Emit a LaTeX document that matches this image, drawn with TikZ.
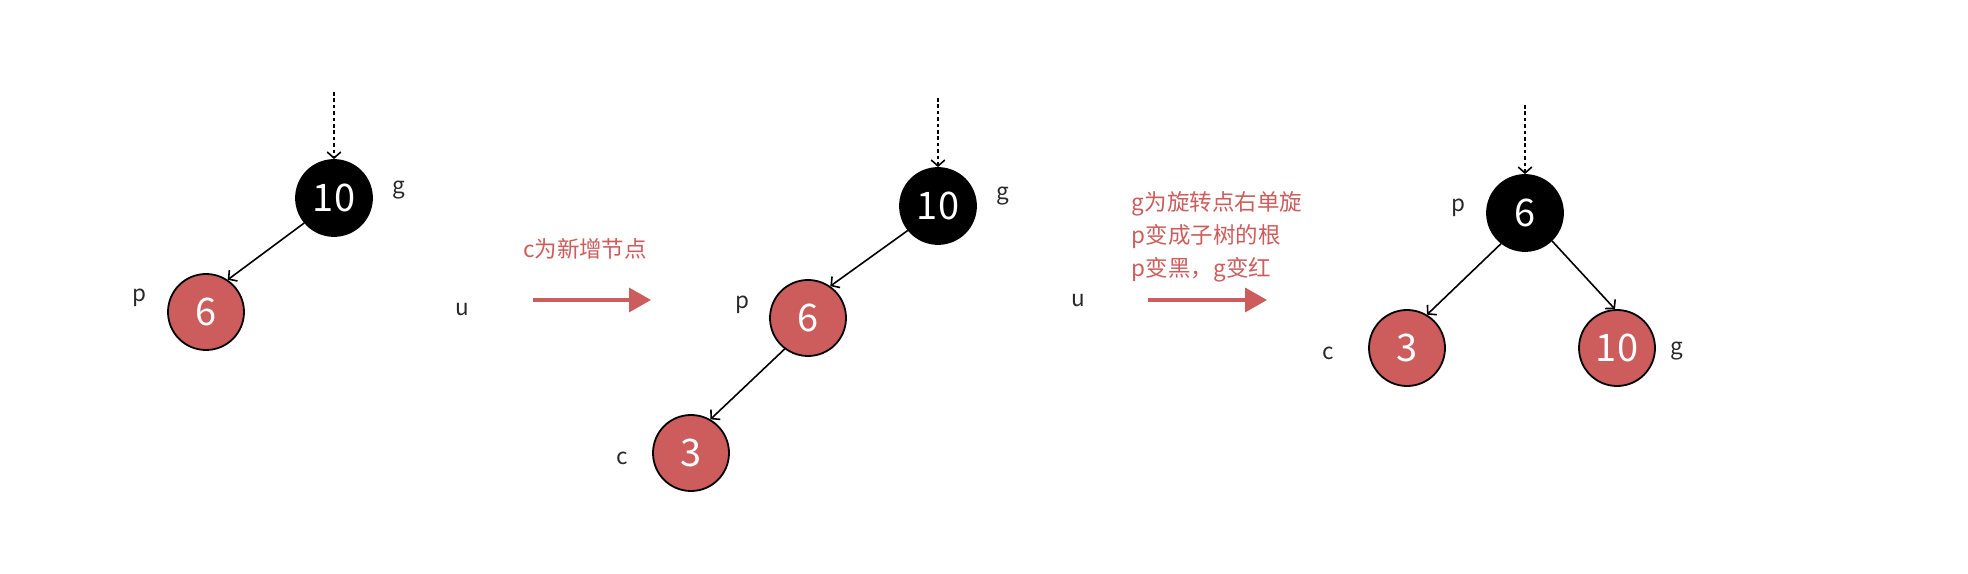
\documentclass[tikz,border=0pt]{standalone}
\usepackage{fontspec}
\newfontfamily\cjk{Noto Sans CJK SC}
\usepackage{tikz}
\usetikzlibrary{arrows.meta, positioning}
\definecolor{nodered}{RGB}{205,92,92}
\definecolor{labelgray}{RGB}{40,40,40}

\begin{document}
\begin{tikzpicture}[
		x=0.25mm,
		y=-0.25mm,
		font=\cjk,
		blacknode/.style={circle, draw=black, fill=black, line width=0.45mm, minimum size=19mm, inner sep=0pt, text=white, font=\cjk\fontsize{27}{27}\selectfont},
		rednode/.style={blacknode, fill=nodered},
		lbl/.style={text=labelgray, font=\cjk\fontsize{16}{16}\selectfont},
		edge/.style={-{Straight Barb[length=1.5mm,width=3.4mm]}, line width=0.4mm},
		entry/.style={edge, dash pattern=on 0.9mm off 0.7mm},
		turnarrow/.style={-{Triangle[length=5.5mm,width=6mm]}, line width=0.9mm, draw=nodered},
		note/.style={text=nodered, align=left, font=\cjk\fontsize{16}{23.5}\selectfont}
		]
		\useasboundingbox (0,0) rectangle (1968,574);
		
		% Before insertion
		\node[blacknode] (g1) at (334,198) {10};
		\node[rednode] (p1) at (206,312) {6};
		\node[lbl] (lg1) at (399,190) {g};
		\node[lbl] (lp1) at (139,298) {p};
		\coordinate (t1) at (334,92);
		\draw[entry] (t1) -- (g1.north);
		\draw[edge] (g1.-140) -- (p1.56);
		
		% First step
		\node[lbl] (lu1) at (462,310) {u};
		\coordinate (a1) at (533,300);
		\coordinate (b1) at (651,300);
		\draw[turnarrow] (a1) -- (b1);
		\node[note] (n1) at (585,249) {c为新增节点};
		
		% After insertion
		\node[blacknode] (g2) at (938,206) {10};
		\node[rednode] (p2) at (808,318) {6};
		\node[rednode] (c2) at (691,453) {3};
		\node[lbl] (lg2) at (1003,196) {g};
		\node[lbl] (lp2) at (742,305) {p};
		\node[lbl] (lc2) at (622,458) {c};
		\coordinate (t2) at (938,98);
		\draw[entry] (t2) -- (g2.north);
		\draw[edge] (g2.-141) -- (p2.55);
		\draw[edge] (p2.-127) -- (c2.60);
		
		% Second step
		\node[lbl] (lu2) at (1078,301) {u};
		\coordinate (a2) at (1148,300);
		\coordinate (b2) at (1267,300);
		\draw[turnarrow] (a2) -- (b2);
		\node[note, anchor=west] (n2) at (1127,237) {g为旋转点右单旋\\p变成子树的根\\p变黑，g变红};
		
		% After rotation
		\node[blacknode] (p3) at (1525,213) {6};
		\node[rednode] (c3) at (1407,348) {3};
		\node[rednode] (g3) at (1617,348) {10};
		\node[lbl] (lp3) at (1458,208) {p};
		\node[lbl] (lc3) at (1328,353) {c};
		\node[lbl] (lg3) at (1677,351) {g};
		\coordinate (t3) at (1525,105);
		\draw[entry] (t3) -- (p3.north);
		\draw[edge] (p3.-128) -- (c3.59);
		\draw[edge] (p3.-46) -- (g3.93);
	\end{tikzpicture}
\end{document}
